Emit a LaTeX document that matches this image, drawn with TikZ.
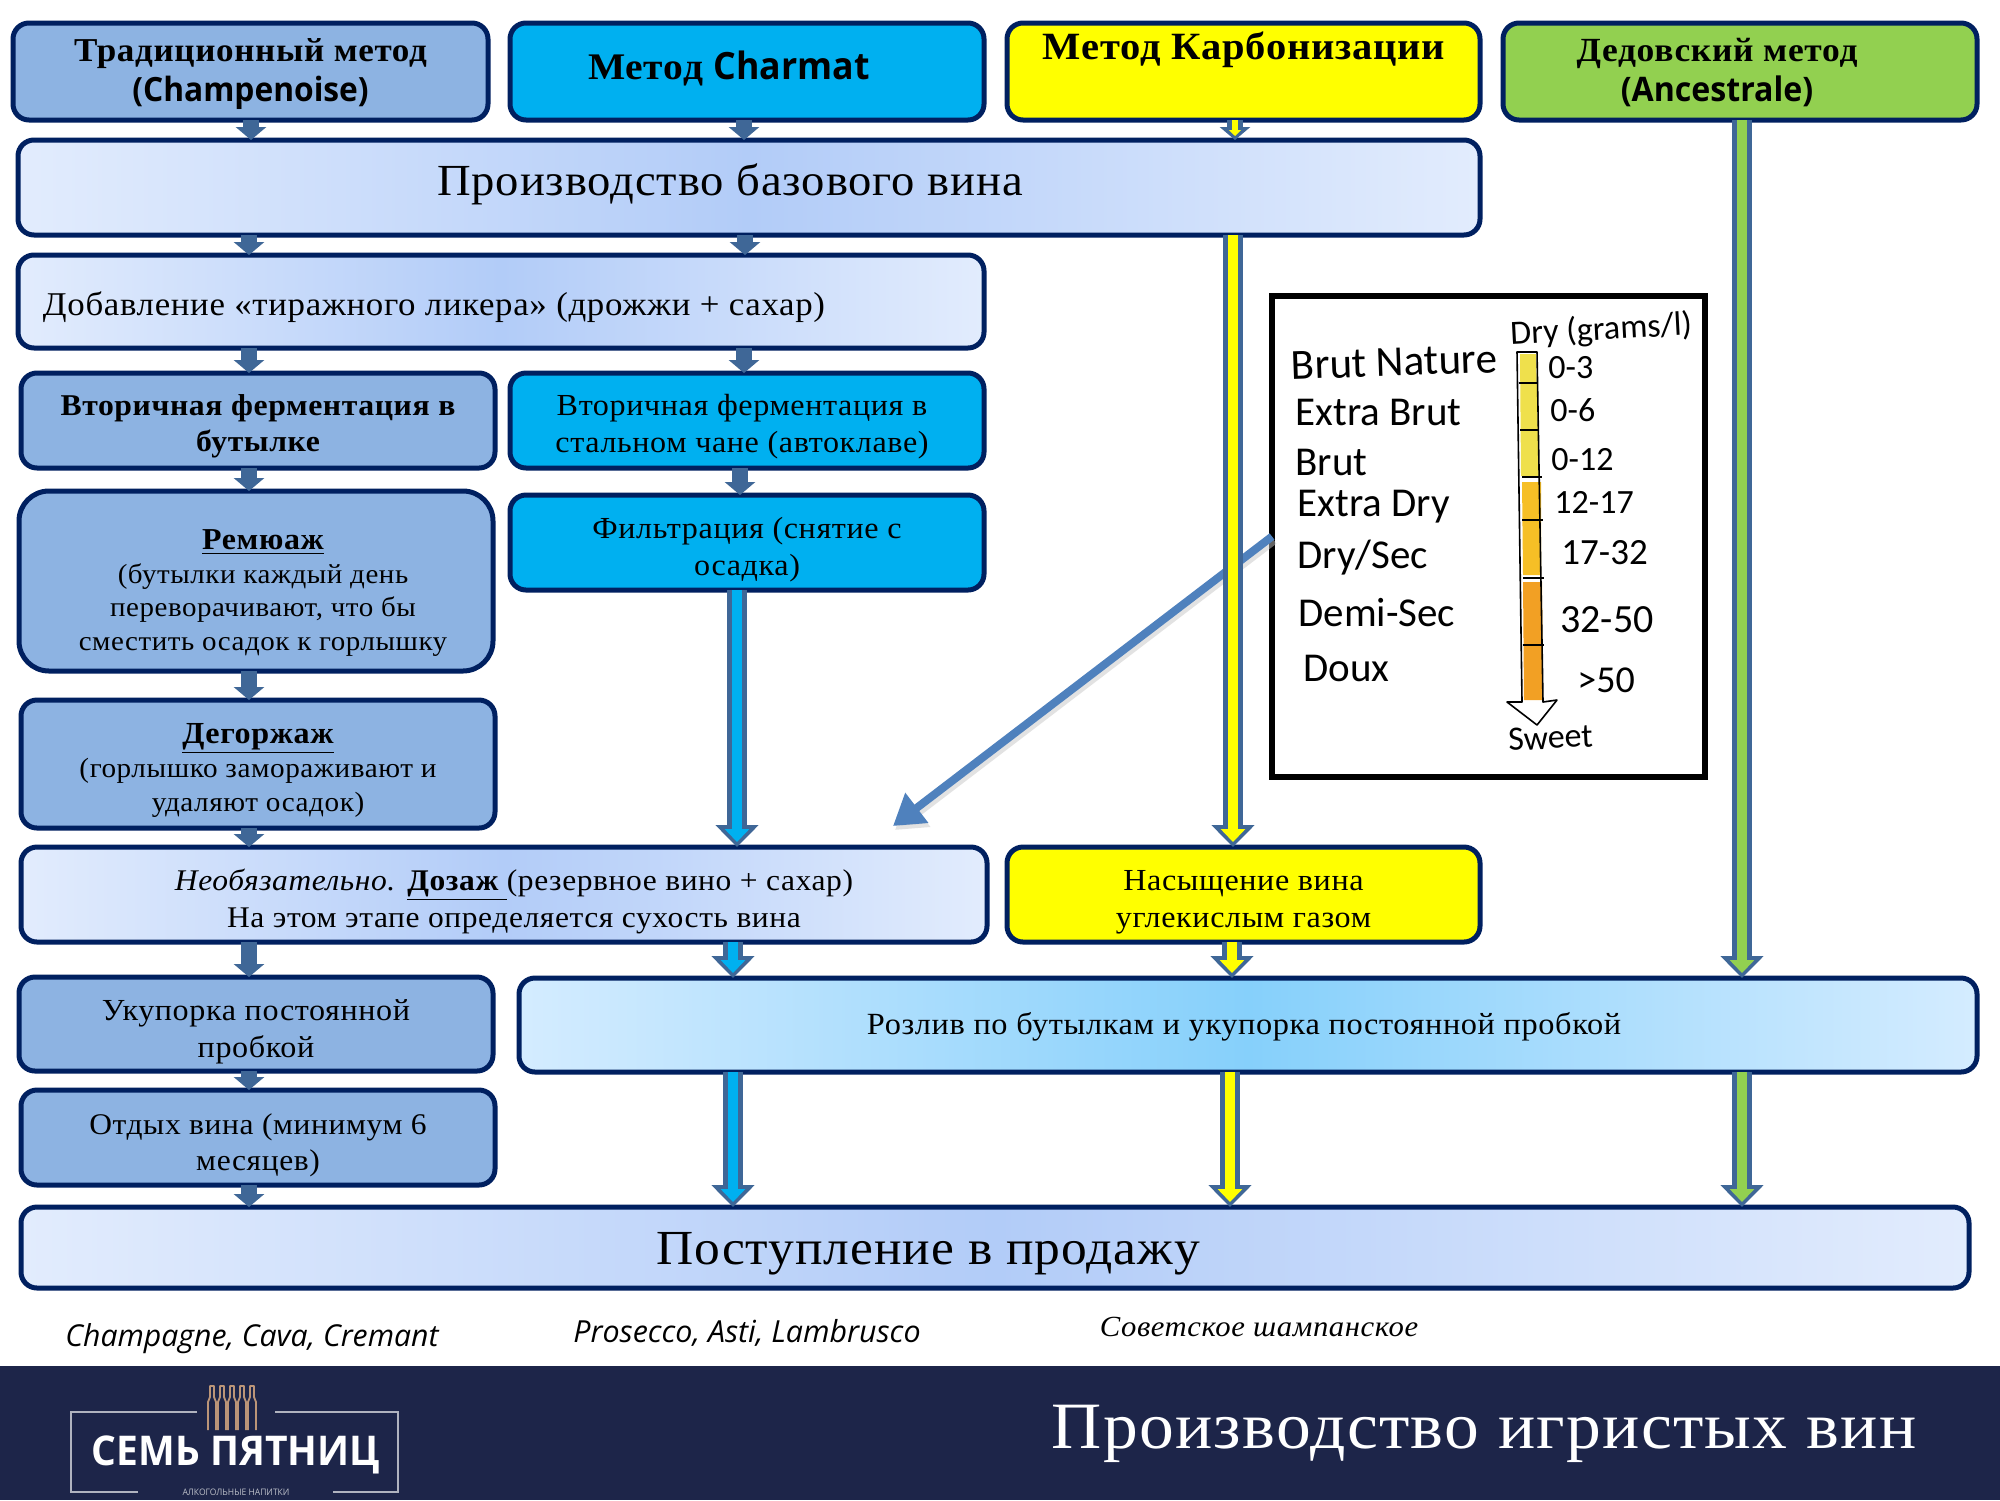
\documentclass[tikz,border=0pt]{standalone}
\usepackage{fontspec}
\setmainfont{Liberation Serif}[FakeStretch=1.05,LetterSpace=2]
\newfontfamily\latb{Open Sans}[FakeStretch=0.95]
\newfontfamily\capt{Open Sans}
\newfontfamily\hand{Carlito}
\usetikzlibrary{arrows.meta}
\definecolor{navy}{HTML}{002060}
\definecolor{steel}{HTML}{8DB3E2}
\definecolor{cyanb}{HTML}{00B0F0}
\definecolor{greenb}{HTML}{92D050}
\definecolor{yel}{RGB}{255,255,0}
\definecolor{arrowc}{HTML}{3F6797}
\definecolor{footer}{HTML}{1D2549}
\definecolor{gl}{HTML}{E2ECFD}
\definecolor{gm}{HTML}{B2CCF8}
\definecolor{bl}{HTML}{D4ECFF}
\definecolor{bm}{HTML}{86D0FB}
\definecolor{diagc}{HTML}{4F81BD}
\definecolor{thA}{HTML}{EFE04C}
\definecolor{thB}{HTML}{F6BF26}
\definecolor{thC}{HTML}{F2A024}
\tikzset{
  box/.style={draw=navy,line width=2.5pt,rounded corners=8pt,outer sep=0pt,inner sep=0pt,align=center},
  steelbox/.style={box,fill=steel},
  cyanbox/.style={box,fill=cyanb},
  yellowbox/.style={box,fill=yel},
  greenbox/.style={box,fill=greenb},
  grad/.style={box,left color=gl,right color=gl,middle color=gm},
  gradb/.style={box,left color=bl,right color=bl,middle color=bm},
  smallarrow/.style={line width=8pt,draw=arrowc,-{Triangle[width=15pt,length=6.5pt]}},
  bigout/.style={line width=10pt,draw=arrowc,-{Triangle[width=21pt,length=11pt]}},
  bigin/.style={line width=5pt,draw=#1,shorten >=2.5pt,-{Triangle[width=12pt,length=6.5pt]}},
  tinyin/.style={line width=2.6pt,draw=#1,shorten >=2pt,-{Triangle[width=6pt,length=3pt]}},
  textonly/.style={inner sep=0pt,align=center},
  hw/.style={inner sep=0pt,font=\hand\fontsize{17}{17}\selectfont,anchor=west},
  hwb/.style={hw,font=\hand\fontsize{20.5}{20.5}\selectfont},
  std/.style={font=\fontsize{15.3}{18.5}\selectfont},
}
\newcommand\dn[1]{\rule{0pt}{#1pt}}
% name, x0,y0,x1,y1, style, text
\newcommand\bx[7]{\node[#6,minimum width={(#4-#2)*0.5pt},minimum height={(#5-#3)*0.5pt}] (#1) at ({(#2+#4)/2},{(#3+#5)/2}) {#7};}
\newcommand\smallflow[3]{\draw[smallarrow] (#2.south -| #1,0) -- (#3.north -| #1,0);}
\newcommand\bigflow[4]{\draw[bigout] (#2.south -| #1,0) -- (#3.north -| #1,0);
  \draw[bigin=#4] (#2.south -| #1,0) -- (#3.north -| #1,0);}
\newcommand\tinyflow[4]{\draw[smallarrow] (#2.south -| #1,0) -- (#3.north -| #1,0);
  \draw[tinyin=#4] (#2.south -| #1,0) -- (#3.north -| #1,0);}
\begin{document}
\begin{tikzpicture}[x=0.5pt,y=-0.5pt]
\useasboundingbox (0,0) rectangle (2000,1500);
\fill[white] (0,0) rectangle (2000,1500);
\fill[footer] (0,1366) rectangle (2000,1500);

% headers
\bx{hA}{13}{23}{488}{120}{steelbox,font=\fontsize{16.7}{20}\selectfont\bfseries}{\dn{14.5}Традиционный метод\\{\latb (Champenoise)}}
\bx{hB}{510}{23}{984}{120}{cyanbox}{}
\node[textonly,font=\fontsize{18.8}{20}\selectfont\bfseries] (hBt) at (729,68) {Метод {\latb Charmat}};
\bx{hC}{1007}{23}{1480}{120}{yellowbox}{}
\node[textonly,font=\fontsize{19.3}{20}\selectfont\bfseries] (hCt) at (1244,50) {Метод Карбонизации};
\bx{hD}{1503}{23}{1977}{120}{greenbox}{}
\node[textonly,font=\fontsize{16.9}{20}\selectfont\bfseries] (hDt) at (1717,73) {Дедовский метод\\{\latb (Ancestrale)}};

\bx{base}{18}{140}{1480}{235}{grad}{}
\node[textonly,font=\fontsize{22.2}{24}\selectfont] (baseT) at (730,184) {Производство базового вина};
\bx{tir}{18}{255}{984}{348}{grad}{}
\node[textonly,font=\fontsize{16.6}{18}\selectfont] (tirT) at (434,307) {Добавление «тиражного ликера» (дрожжи + сахар)};

\bx{secA}{21}{373}{495}{468}{steelbox,font=\fontsize{15.1}{18}\selectfont\bfseries}{\dn{16.5}Вторичная ферментация в\\бутылке}
\bx{secB}{510}{373}{984}{468}{cyanbox}{}
\node[textonly,std] (secBt) at (742,427) {Вторичная ферментация в\\стальном чане (автоклаве)};
\bx{rem}{19}{491}{493}{671}{steelbox,rounded corners=15pt}{}
\node[textonly,font=\fontsize{13.8}{16.7}\selectfont] (remT) at (263,593) {{\fontsize{15.2}{17}\selectfont\bfseries\underline{Ремюаж}}\\(бутылки каждый день\\переворачивают, что бы\\сместить осадок к горлышку};
\bx{fil}{510}{495}{984}{590}{cyanbox,std}{\dn{17.5}Фильтрация (снятие с\\осадка)}
\bx{deg}{21}{700}{495}{828}{steelbox,font=\fontsize{13.9}{17}\selectfont}{\dn{16.5}{\fontsize{15.3}{17}\selectfont\bfseries\underline{Дегоржаж}}\\(горлышко замораживают и\\удаляют осадок)}
\bx{dos}{21}{847}{987}{942}{grad}{}
\node[textonly,font=\fontsize{15}{18.5}\selectfont] (dosT) at (514,901) {\textit{Необязательно.} \textbf{\underline{Дозаж }}(резервное вино + сахар)\\На этом этапе определяется сухость вина};
\bx{carb}{1007}{847}{1480}{942}{yellowbox,std}{\dn{18}Насыщение вина\\углекислым газом}
\bx{uk}{19}{977}{493}{1071}{steelbox,std}{\dn{18.5}Укупорка постоянной\\пробкой}
\bx{bot}{519}{978}{1977}{1072}{gradb}{}
\node[textonly,font=\fontsize{15.4}{18}\selectfont] (botT) at (1244,1027) {Розлив по бутылкам и укупорка постоянной пробкой};
\bx{rest}{21}{1090}{495}{1185}{steelbox,font=\fontsize{15}{18}\selectfont}{\dn{18}Отдых вина (минимум 6\\месяцев)}
\bx{sale}{21}{1207}{1969}{1288}{grad}{}
\node[textonly,font=\fontsize{24.5}{26}\selectfont] (saleT) at (928,1254) {Поступление в продажу};

% legend
\node[draw=black,line width=3pt,fill=white,minimum width=216.5pt,minimum height=240.5pt,outer sep=0pt] (legend) at (1488.5,536.5) {};
\coordinate (diagTip) at (893,826);
\draw[gray!45,line width=4pt,-{Triangle[width=18pt,length=15pt]},opacity=.5] ([xshift=1pt,yshift=-2pt]legend.west) -- ([xshift=1pt,yshift=-2pt]diagTip);
\draw[diagc,line width=4pt,-{Triangle[width=18pt,length=15pt]}] (legend.west) -- (diagTip);

% thermometer
\fill[thA] (1520,354) -- (1536,354) -- (1539,476) -- (1521,476) -- cycle;
\fill[thB] (1522,482) -- (1541,482) -- (1541,575) -- (1523,575) -- cycle;
\fill[thC] (1523,582) -- (1542,582) -- (1543,700) -- (1524,700) -- cycle;
\draw[black,line width=.8pt,line join=round] (1517,352) -- (1537,352) -- (1543,702) -- (1557,700) -- (1537,725) -- (1507,702) -- (1522,702) -- cycle;
\foreach \yy/\xa/\xb in {383/1519/1537,430/1520/1539,477/1522/1542,520/1522/1543,578/1523/1544,645/1523/1544}
  \draw[black,line width=.7pt] (\xa,\yy) -- (\xb,\yy);
\node[hw,rotate=3] (lgDry) at (1510,335) {Dry (grams/l)};
\node[hwb,font=\hand\fontsize{21.5}{21.5}\selectfont,rotate=2] (lg1) at (1291,366) {Brut Nature};
\node[hwb] (lg2) at (1295,412) {Extra Brut};
\node[hwb] (lg3) at (1295,462) {Brut};
\node[hwb] (lg4) at (1297,507) {Extra Dry};
\node[hwb] (lg5) at (1297,558) {Dry/Sec};
\node[hwb] (lg6) at (1298,613) {Demi-Sec};
\node[hwb] (lg7) at (1303,668) {Doux};
\node[hw] (v1) at (1548,368) {0-3};
\node[hw] (v2) at (1550,410) {0-6};
\node[hw] (v3) at (1551,460) {0-12};
\node[hw] (v4) at (1554,502) {12-17};
\node[hw,font=\hand\fontsize{18.5}{18}\selectfont] (v5) at (1561,553) {17-32};
\node[hw,font=\hand\fontsize{20}{18}\selectfont] (v6) at (1560,620) {32-50};
\node[hw,font=\hand\fontsize{19}{18}\selectfont] (v7) at (1577,680) {>50};
\node[hw,rotate=3] (v8) at (1508,740) {Sweet};

% arrows
\smallflow{251}{hA}{base}
\smallflow{744}{hB}{base}
\tinyflow{1235}{hC}{base}{yel}
\smallflow{249}{base}{tir}
\smallflow{745}{base}{tir}
\smallflow{249}{tir}{secA}
\smallflow{744}{tir}{secB}
\smallflow{249}{secA}{rem}
\smallflow{740}{secB}{fil}
\smallflow{249}{rem}{deg}
\smallflow{249}{deg}{dos}
\smallflow{249}{dos}{uk}
\smallflow{249}{uk}{rest}
\smallflow{249}{rest}{sale}
\bigflow{737}{fil}{dos}{cyanb}
\bigflow{1233}{base}{carb}{yel}
\bigflow{1742}{hD}{bot}{greenb}
\bigflow{733}{dos}{bot}{cyanb}
\bigflow{1232}{carb}{bot}{yel}
\bigflow{733}{bot}{sale}{cyanb}
\bigflow{1230}{bot}{sale}{yel}
\bigflow{1742}{bot}{sale}{greenb}

% captions
\node[textonly,font=\capt\itshape\fontsize{15.1}{17}\selectfont] (capA) at (252,1339) {Champagne, Cava, Cremant};
\node[textonly,font=\capt\itshape\fontsize{15.2}{17}\selectfont] (capB) at (747,1333) {Prosecco, Asti, Lambrusco};
\node[textonly,font=\itshape\fontsize{14.6}{17}\selectfont] (capC) at (1259,1327) {Советское шампанское};

% footer
\node[textonly,text=white,font=\fontsize{33.1}{34}\selectfont] (title) at (1484,1434) {Производство игристых вин};
\draw[white!65!footer,line width=1pt] (197,1412) -- (71,1412) -- (71,1492) -- (138,1492) (333,1492) -- (398,1492) -- (398,1412) -- (275,1412);
\foreach \bxx in {212,222,232,242,252}
  \draw[white!55!orange!70!footer,line width=.9pt,line join=round] (\bxx-4,1430) -- (\bxx-4,1402) -- (\bxx-2,1397) -- (\bxx-2,1386) -- (\bxx+2,1386) -- (\bxx+2,1397) -- (\bxx+4,1402) -- (\bxx+4,1430);
\node[textonly,text=white,font=\latb\bfseries\fontsize{20.5}{20}\selectfont] (logo) at (236,1455) {СЕМЬ ПЯТНИЦ};
\node[textonly,text=white!70!footer,font=\latb\fontsize{4.5}{5}\selectfont] (logoS) at (236,1492) {АЛКОГОЛЬНЫЕ НАПИТКИ};
\end{tikzpicture}
\end{document}
